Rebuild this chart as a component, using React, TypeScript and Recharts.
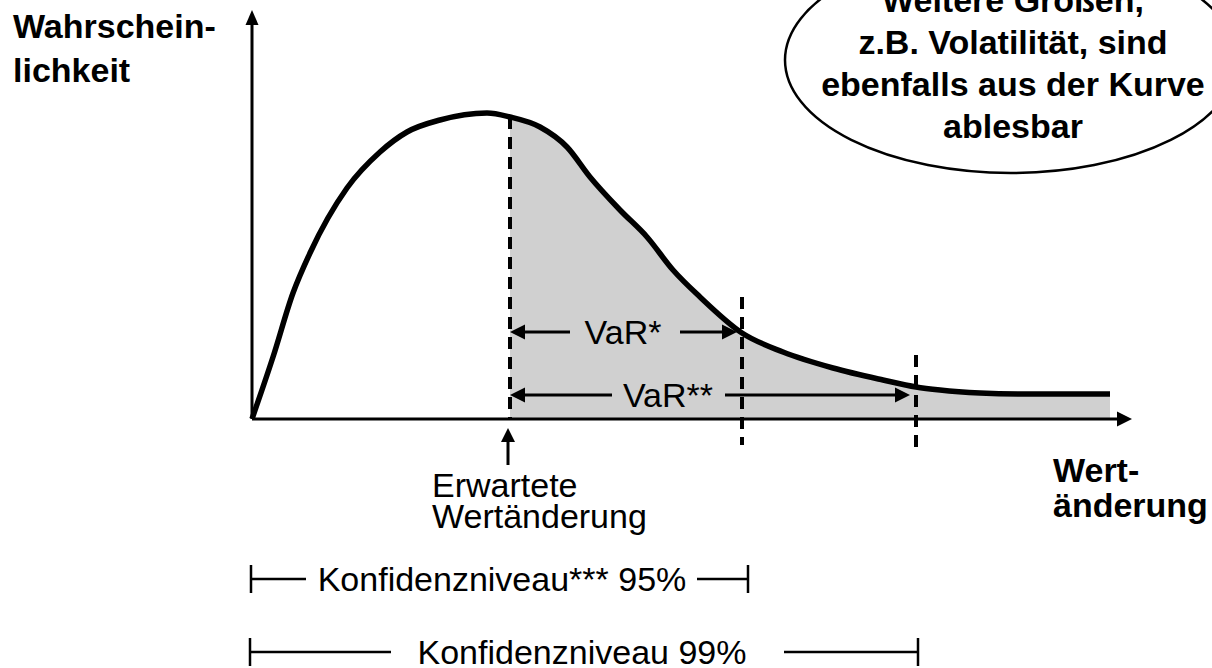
import React from 'react';
import { ComposedChart, Line, Area, XAxis, YAxis, ReferenceLine, Customized } from 'recharts';

// Wertänderung (x) and Wahrscheinlichkeit (y)
const wertAenderung = [0, 21, 41, 58, 95, 128, 155, 188, 235, 258, 288, 315, 338, 368, 395, 421, 448, 490, 531, 581, 631, 664, 688, 728, 768, 808, 858];
const wahrscheinlichkeit = [0, 62, 126, 166, 231, 267, 287, 299, 306, 302, 292, 272, 242, 209, 182, 149, 122, 86, 67, 51, 39, 32, 29, 26, 25, 25, 25];

const erwartung = 258;      // Erwartete Wertänderung
const grenze95 = 490;       // VaR* boundary
const grenze99 = 664;       // VaR** boundary

const ellipseLines = ['Weitere Größen,', 'z.B. Volatilität, sind', 'ebenfalls aus der Kurve', 'ablesbar'];
const yTitle = ['Wahrschein-', 'lichkeit'];
const xTitle = ['Wert-', 'änderung'];
const erwartungLabel = ['Erwartete', 'Wertänderung'];

const data = wertAenderung.map((x, i) => ({
  x,
  p: wahrscheinlichkeit[i],
  tail: x >= erwartung ? wahrscheinlichkeit[i] : null,
}));

const FONT = '"Liberation Sans", Arial, Helvetica, sans-serif';

function head(tx: number, ty: number, ux: number, uy: number, len: number, half: number) {
  const bx = tx - ux * len;
  const by = ty - uy * len;
  const px = -uy, py = ux;
  return `${tx},${ty} ${bx + px * half},${by + py * half} ${bx - px * half},${by - py * half}`;
}

type ArrowOpts = { start?: boolean; end?: boolean; len?: number; half?: number; width?: number };

function arrowShape(o: ArrowOpts) {
  return (p: any) => {
    const x1 = Number(p.x1), y1 = Number(p.y1), x2 = Number(p.x2), y2 = Number(p.y2);
    const L = Math.hypot(x2 - x1, y2 - y1) || 1;
    const ux = (x2 - x1) / L, uy = (y2 - y1) / L;
    const len = o.len ?? 15, half = o.half ?? 7.5;
    const sx = o.start ? x1 + ux * len * 0.7 : x1;
    const sy = o.start ? y1 + uy * len * 0.7 : y1;
    const ex = o.end ? x2 - ux * len * 0.7 : x2;
    const ey = o.end ? y2 - uy * len * 0.7 : y2;
    return (
      <g>
        <line x1={sx} y1={sy} x2={ex} y2={ey} stroke="#000" strokeWidth={o.width ?? 3} />
        {o.start && <polygon points={head(x1, y1, -ux, -uy, len, half)} fill="#000" />}
        {o.end && <polygon points={head(x2, y2, ux, uy, len, half)} fill="#000" />}
      </g>
    );
  };
}

// horizontal arrow/bracket with a gap for a label
function labelledShape(d1: number, d2: number, gapL: number, gapR: number, center: number, label: string, kind: 'arrow' | 'bracket') {
  return (p: any) => {
    const x1 = Number(p.x1), y = Number(p.y1), x2 = Number(p.x2);
    const toPx = (d: number) => x1 + ((d - d1) / (d2 - d1)) * (x2 - x1);
    const gl = toPx(gapL), gr = toPx(gapR), c = toPx(center);
    const len = 15, half = 7.5;
    return (
      <g>
        {kind === 'arrow' ? (
          <>
            <line x1={x1 + len * 0.7} y1={y} x2={gl} y2={y} stroke="#000" strokeWidth={3} />
            <line x1={gr} y1={y} x2={x2 - len * 0.7} y2={y} stroke="#000" strokeWidth={3} />
            <polygon points={head(x1, y, -1, 0, len, half)} fill="#000" />
            <polygon points={head(x2, y, 1, 0, len, half)} fill="#000" />
          </>
        ) : (
          <>
            <line x1={x1} y1={y} x2={gl} y2={y} stroke="#000" strokeWidth={2.5} />
            <line x1={gr} y1={y} x2={x2} y2={y} stroke="#000" strokeWidth={2.5} />
            <line x1={x1} y1={y - 14} x2={x1} y2={y + 14} stroke="#000" strokeWidth={2.5} />
            <line x1={x2} y1={y - 14} x2={x2} y2={y + 14} stroke="#000" strokeWidth={2.5} />
          </>
        )}
        <text x={c} y={y + 12} textAnchor="middle" fontFamily={FONT} fontSize={34} fill="#000">{label}</text>
      </g>
    );
  };
}

const Labels = () => (
  <g fontFamily={FONT} fill="#000">
    {yTitle.map((t, i) => (
      <text key={t} x={13} y={38 + i * 44} fontSize={34} fontWeight="bold">{t}</text>
    ))}
    {xTitle.map((t, i) => (
      <text key={t} x={1053} y={482 + i * 35} fontSize={34} fontWeight="bold">{t}</text>
    ))}
    <ellipse cx={1011} cy={60} rx={226} ry={113} fill="#fff" stroke="#000" strokeWidth={2.5} />
    {ellipseLines.map((t, i) => (
      <text key={t} x={1013} y={12 + i * 42} fontSize={34} fontWeight="bold" textAnchor="middle">{t}</text>
    ))}
    {erwartungLabel.map((t, i) => (
      <text key={t} x={432} y={497 + i * 31} fontSize={34}>{t}</text>
    ))}
  </g>
);

export default function App() {
  return (
    <div style={{ position: 'absolute', left: 0, top: 0, background: '#fff' }}>
      <ComposedChart width={1212} height={668} data={data} margin={{ top: 0, right: 0, bottom: 0, left: 0 }}>
        <XAxis type="number" dataKey="x" domain={[-252, 960]} hide allowDataOverflow />
        <YAxis type="number" domain={[-249, 419]} hide allowDataOverflow />
        <Customized component={<Labels />} />
        <Area dataKey="tail" type="monotone" fill="#d0d0d0" fillOpacity={1} stroke="none" baseValue={0} isAnimationActive={false} />
        {/* axes */}
        <ReferenceLine segment={[{ x: 0, y: 0 }, { x: 0, y: 409 }]} shape={arrowShape({ end: true, len: 15, half: 6.5, width: 3 })} />
        <ReferenceLine segment={[{ x: 0, y: 0 }, { x: 880, y: 0 }]} shape={arrowShape({ end: true, len: 15, half: 7.5, width: 3 })} />
        {/* dashed boundaries */}
        <ReferenceLine segment={[{ x: erwartung, y: 302 }, { x: erwartung, y: 0 }]} stroke="#000" strokeWidth={4} strokeDasharray="12 8" />
        <ReferenceLine segment={[{ x: grenze95, y: 122 }, { x: grenze95, y: -26 }]} stroke="#000" strokeWidth={4} strokeDasharray="12 8" />
        <ReferenceLine segment={[{ x: grenze99, y: 64 }, { x: grenze99, y: -29 }]} stroke="#000" strokeWidth={4} strokeDasharray="12 8" />
        {/* VaR arrows */}
        <ReferenceLine segment={[{ x: erwartung, y: 87 }, { x: 485, y: 87 }]} shape={labelledShape(erwartung, 485, 318, 428, 371, 'VaR*', 'arrow')} />
        <ReferenceLine segment={[{ x: erwartung, y: 24 }, { x: 658, y: 24 }]} shape={labelledShape(erwartung, 658, 360, 473, 416, 'VaR**', 'arrow')} />
        {/* Erwartete Wertänderung pointer */}
        <ReferenceLine segment={[{ x: 256, y: -46 }, { x: 256, y: -9 }]} shape={arrowShape({ end: true, len: 14, half: 7, width: 3 })} />
        {/* confidence brackets */}
        <ReferenceLine segment={[{ x: -1, y: -160 }, { x: 496, y: -160 }]} shape={labelledShape(-1, 496, 54, 445, 250, 'Konfidenzniveau*** 95%', 'bracket')} />
        <ReferenceLine segment={[{ x: -2, y: -233 }, { x: 666, y: -233 }]} shape={labelledShape(-2, 666, 139, 532, 330, 'Konfidenzniveau 99%', 'bracket')} />
        <Line dataKey="p" type="monotone" stroke="#000" strokeWidth={5.5} dot={false} activeDot={false} isAnimationActive={false} />
      </ComposedChart>
    </div>
  );
}
